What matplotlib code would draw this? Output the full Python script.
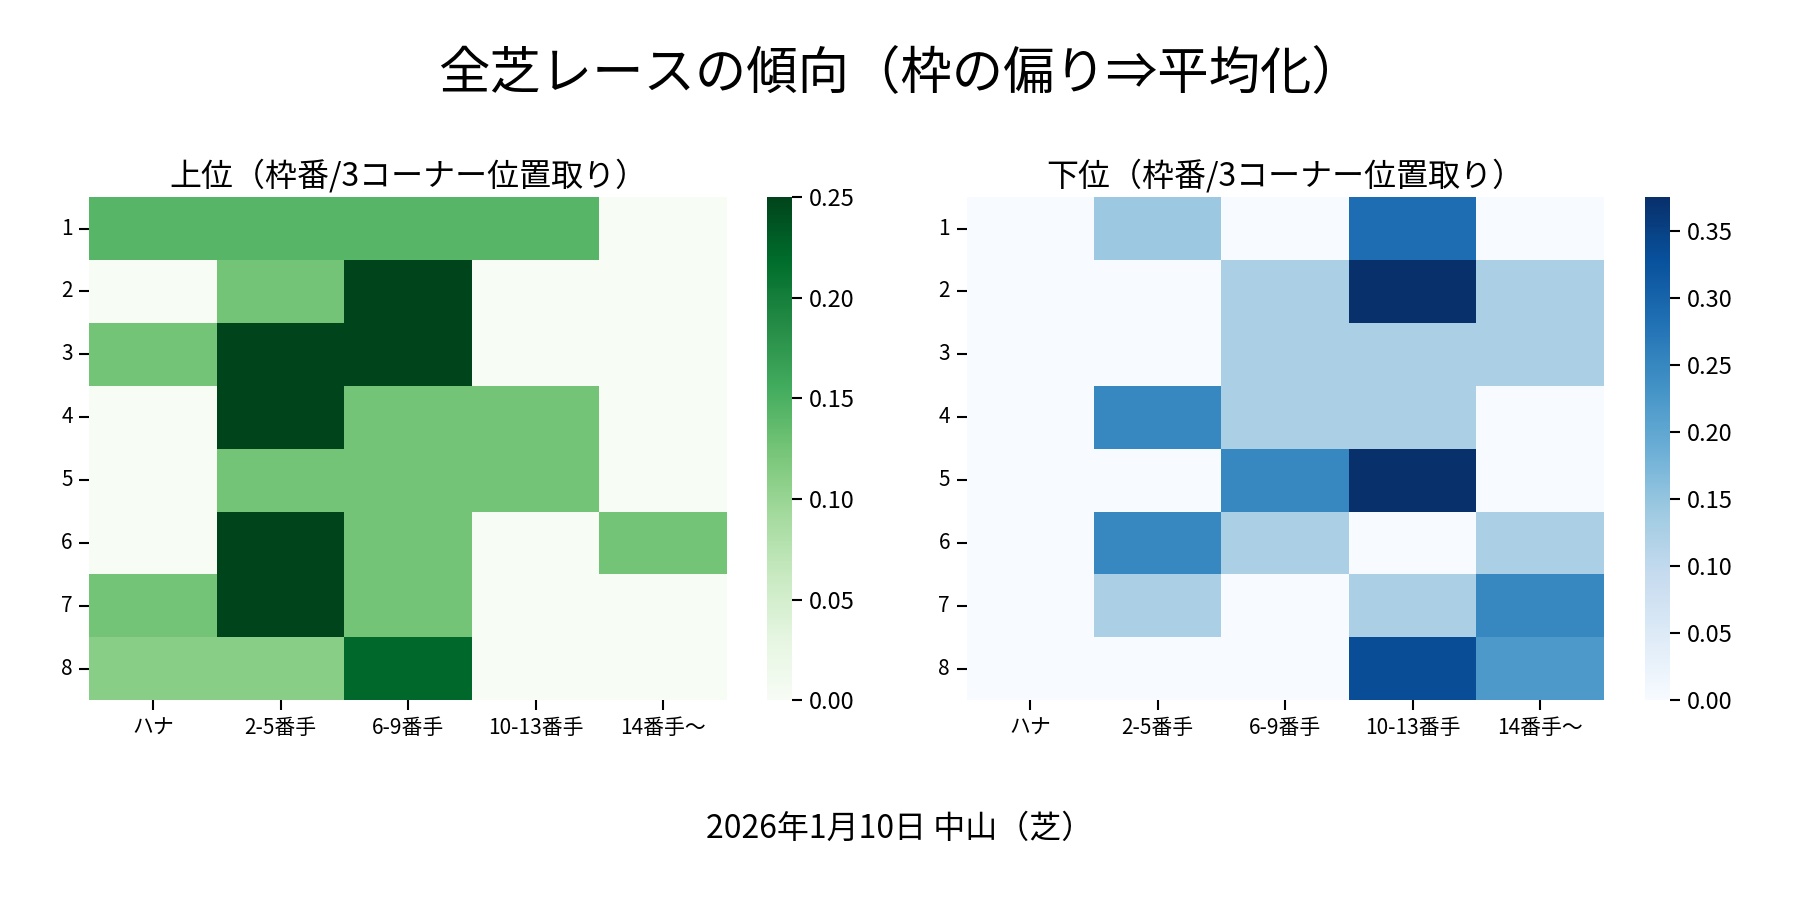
import matplotlib
matplotlib.use("Agg")
import matplotlib.pyplot as plt
import numpy as np
import seaborn as sns

plt.rcParams['font.family'] = ['Noto Sans CJK JP', 'DejaVu Sans']

title = "全芝レースの傾向（枠の偏り⇒平均化）"
subtitle_top = "上位（枠番/3コーナー位置取り）"
subtitle_bottom = "下位（枠番/3コーナー位置取り）"
footer = "2026年1月10日 中山（芝）"

positions = ["ハナ", "2-5番手", "6-9番手", "10-13番手", "14番手〜"]
gates = ["1", "2", "3", "4", "5", "6", "7", "8"]

top_values = [
    [0.143, 0.143, 0.143, 0.143, 0.0],
    [0.0, 0.125, 0.25, 0.0, 0.0],
    [0.125, 0.25, 0.25, 0.0, 0.0],
    [0.0, 0.25, 0.125, 0.125, 0.0],
    [0.0, 0.125, 0.125, 0.125, 0.0],
    [0.0, 0.25, 0.125, 0.0, 0.125],
    [0.125, 0.25, 0.125, 0.0, 0.0],
    [0.111, 0.111, 0.222, 0.0, 0.0],
]

bottom_values = [
    [0.0, 0.143, 0.0, 0.286, 0.0],
    [0.0, 0.0, 0.125, 0.375, 0.125],
    [0.0, 0.0, 0.125, 0.125, 0.125],
    [0.0, 0.25, 0.125, 0.125, 0.0],
    [0.0, 0.0, 0.25, 0.375, 0.0],
    [0.0, 0.25, 0.125, 0.0, 0.125],
    [0.0, 0.125, 0.0, 0.125, 0.25],
    [0.0, 0.0, 0.0, 0.333, 0.222],
]

fig = plt.figure(figsize=(18, 9), dpi=100)

ax1 = fig.add_axes([0.0497, 0.222, 0.354, 0.559])
cax1 = fig.add_axes([0.426, 0.222, 0.014, 0.559])
ax2 = fig.add_axes([0.537, 0.222, 0.354, 0.559])
cax2 = fig.add_axes([0.914, 0.222, 0.014, 0.559])

sns.heatmap(np.array(top_values), ax=ax1, cbar_ax=cax1, cmap="Greens",
            vmin=0, xticklabels=positions, yticklabels=gates)
sns.heatmap(np.array(bottom_values), ax=ax2, cbar_ax=cax2, cmap="Blues",
            vmin=0, xticklabels=positions, yticklabels=gates)

for ax, sub in [(ax1, subtitle_top), (ax2, subtitle_bottom)]:
    ax.set_title(sub, fontsize=23, pad=8)
    ax.tick_params(axis='both', labelsize=15, length=7, width=1.5, pad=5)
    for lab in ax.get_yticklabels():
        lab.set_rotation(0)
    for lab in ax.get_xticklabels():
        lab.set_rotation(0)

for cax in (cax1, cax2):
    cax.tick_params(labelsize=17, length=7, width=1.5, pad=5)
    cax.yaxis.set_major_formatter(matplotlib.ticker.FormatStrFormatter('%.2f'))

cax1.yaxis.set_major_locator(matplotlib.ticker.MultipleLocator(0.05))
cax2.yaxis.set_major_locator(matplotlib.ticker.MultipleLocator(0.05))

fig.text(0.5, 0.917, title, ha='center', va='center', fontsize=37)
fig.text(0.5, 0.079, footer, ha='center', va='center', fontsize=23)

fig.savefig("out.png", dpi=100)
